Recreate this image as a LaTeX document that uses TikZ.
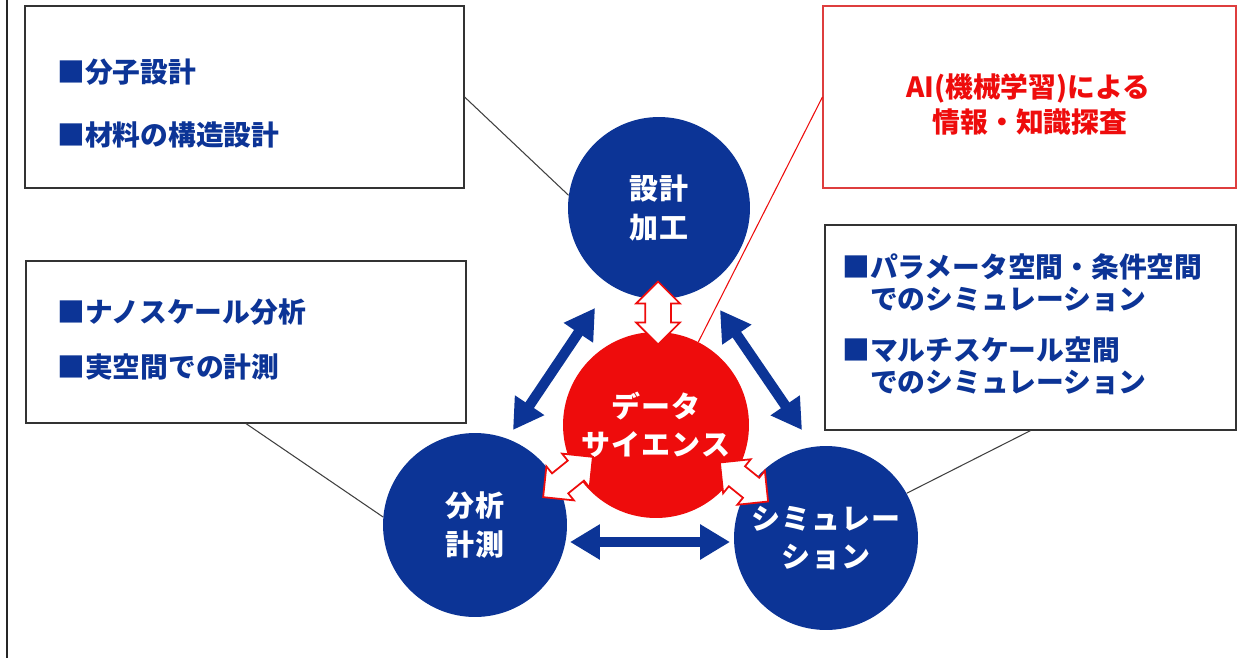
\documentclass[tikz,border=0pt]{standalone}
\usepackage{fontspec}
\newfontfamily\jp{Noto Sans CJK JP}
\newfontfamily\jpw{Noto Sans CJK JP}[LetterSpace=4]
\usetikzlibrary{arrows.meta,shapes.arrows}
\definecolor{dblue}{RGB}{12,52,150}
\definecolor{dred}{RGB}{238,12,12}
\definecolor{bred}{RGB}{222,62,62}
\begin{document}
\begin{tikzpicture}[x=0.02cm,y=-0.02cm,
  box/.style={rectangle,draw=black!80,line width=0.7pt,fill=white,inner sep=0pt},
  redbox/.style={box,draw=bred},
  btxt/.style={anchor=west,inner sep=0pt,text=dblue,font=\jp\bfseries\fontsize{15.8pt}{18pt}\selectfont},
  rtxt/.style={inner sep=0pt,text=dred,font=\jp\bfseries\fontsize{15.8pt}{18pt}\selectfont},
  circ/.style={circle,fill=dblue,inner sep=0pt,text=white,align=center,font=\jpw\bfseries\fontsize{16.5pt}{21.5pt}\selectfont},
  redcirc/.style={circ,fill=dred},
  blink/.style={draw=black!75,line width=0.6pt},
  rlink/.style={draw=dred,line width=0.6pt},
  barrow/.style={draw=dblue,line width=5.8pt,{Triangle[width=19pt,length=17pt]}-{Triangle[width=19pt,length=17pt]}},
  warrow/.style={double arrow,draw=dred,fill=white,line width=1pt,inner xsep=0pt,inner ysep=0.24cm,
     minimum height=1.26cm,double arrow head extend=0.18cm}]
\useasboundingbox (0,0) rectangle (1253,658);
\fill[white] (0,0) rectangle (1253,658);
\draw[line width=1.2pt,black!85] (7,0) -- (7,658);

% boxes
\node[box,minimum width=8.78cm,minimum height=3.64cm] (b1) at (244.5,97) {};
\node[redbox,minimum width=8.26cm,minimum height=3.64cm] (b2) at (1029.5,97) {};
\node[box,minimum width=8.8cm,minimum height=3.24cm] (b3) at (246,342) {};
\node[box,minimum width=8.22cm,minimum height=4.1cm] (b4) at (1030.5,327.5) {};

% box texts
\node[btxt] (t1a) at (57,72) {■分子設計};
\node[btxt] (t1b) at (57,135) {■材料の構造設計};
\node[btxt] (t3a) at (57,312) {■ナノスケール分析};
\node[btxt] (t3b) at (57,367) {■実空間での計測};
\node[btxt] (t4a) at (842,267) {■パラメータ空間・条件空間};
\node[btxt] (t4b) at (842,300) {　でのシミュレーション};
\node[btxt] (t4c) at (842,350) {■マルチスケール空間};
\node[btxt] (t4d) at (842,383) {　でのシミュレーション};
\node[rtxt] (t2a) at (1028,88) {AI(機械学習)による};
\node[rtxt] (t2b) at (1030,122) {情報・知識探査};

% blue double arrows
\coordinate (la1) at (513,430); \coordinate (la2) at (595,308);
\coordinate (ra1) at (720,310); \coordinate (ra2) at (802,430);
\coordinate (ba1) at (570,542); \coordinate (ba2) at (730,542);
\draw[barrow] (la1) -- (la2);
\draw[barrow] (ra1) -- (ra2);
\draw[barrow] (ba1) -- (ba2);

% circles
\node[circ,minimum size=3.64cm] (top) at (659,208) {\raisebox{-2pt}{\parbox{3cm}{\centering 設計\\[0.5pt]加工}}};
\node[redcirc,minimum size=3.72cm] (ds) at (656,425) {データ\\サイエンス};
\node[circ,minimum size=3.68cm] (ana) at (475,525) {分析\\[1pt]計測};
\node[circ,minimum size=3.68cm] (sim) at (826,538) {シミュレー\\ション};

% connectors
\draw[blink] (b1.east) -- (top.172);
\draw[blink] (b3.south) -- (ana.175);
\draw[blink] (b4.south) -- (sim.29);
\draw[rlink] (b2.west) -- (ds.63);

% white double arrows
\node[warrow,rotate=90] (w1) at (658,313) {};
\node[warrow,rotate=39,minimum height=1.28cm] (w2) at (568,477) {};
\node[warrow,rotate=-39,minimum height=1.24cm] (w3) at (744,482) {};
\end{tikzpicture}
\end{document}
